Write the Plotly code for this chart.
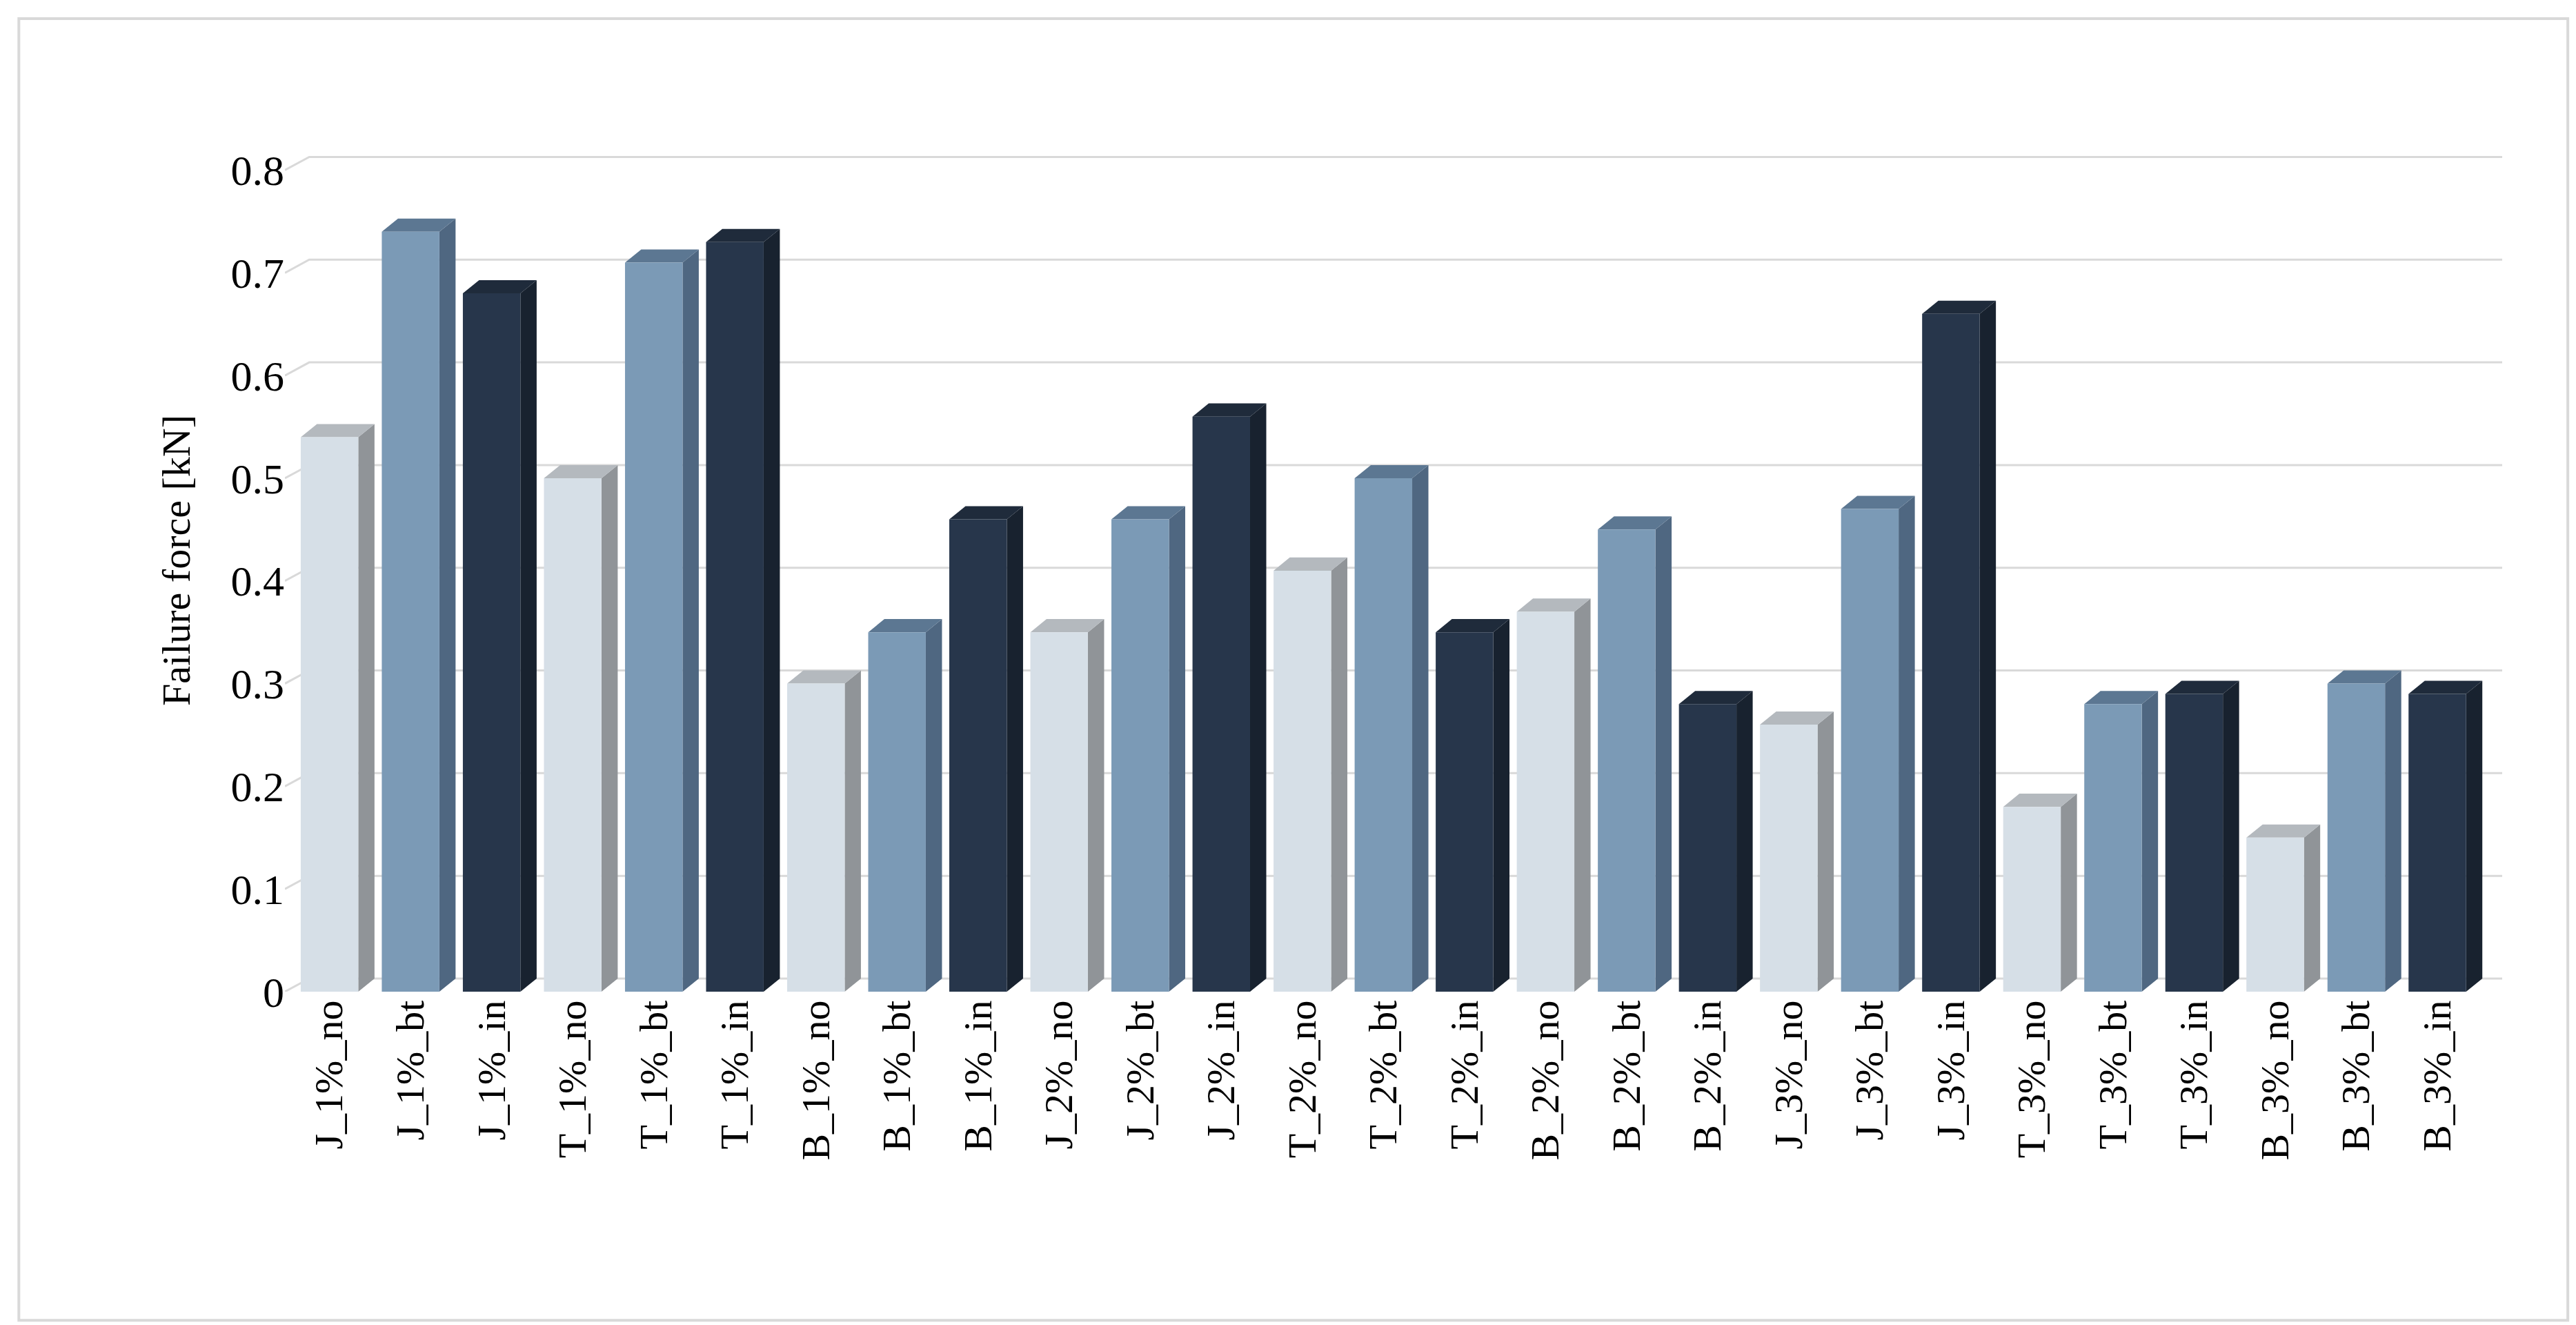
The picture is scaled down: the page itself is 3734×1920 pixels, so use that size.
import plotly.graph_objects as go

categories = ["J_1%_no","J_1%_bt","J_1%_in","T_1%_no","T_1%_bt","T_1%_in",
              "B_1%_no","B_1%_bt","B_1%_in","J_2%_no","J_2%_bt","J_2%_in",
              "T_2%_no","T_2%_bt","T_2%_in","B_2%_no","B_2%_bt","B_2%_in",
              "J_3%_no","J_3%_bt","J_3%_in","T_3%_no","T_3%_bt","T_3%_in",
              "B_3%_no","B_3%_bt","B_3%_in"]
values = [0.54,0.74,0.68,0.50,0.71,0.73,
          0.30,0.35,0.46,0.35,0.46,0.56,
          0.41,0.50,0.35,0.37,0.45,0.28,
          0.26,0.47,0.66,0.18,0.28,0.29,
          0.15,0.30,0.29]
y_ticks = [0,0.1,0.2,0.3,0.4,0.5,0.6,0.7,0.8]
y_ticklabels = ["0","0.1","0.2","0.3","0.4","0.5","0.6","0.7","0.8"]

front = ["#d6dfe7","#7b9ab6","#27364b"]
side = ["#909498","#4f6781","#18222f"]
top = ["#b4b9be","#5c7792","#1f2b3b"]

W = 0.71     # bar width (category units)
DX = 0.2     # depth x offset
DY = 0.0128  # depth y offset
XL, XR = -0.55, 26.8

fig = go.Figure()

gx, gy = [], []
for t in y_ticks:
    gx += [XL, XL+0.3, XR, None]
    gy += [t, t+DY, t+DY, None]
fig.add_trace(go.Scatter(x=gx, y=gy, mode="lines", line=dict(color="#d9d9d9", width=3),
                         hoverinfo="skip", showlegend=False))

for k in range(3):
    fx, fy, sx, sy, tx, ty = [], [], [], [], [], []
    for i, v in enumerate(values):
        if i % 3 != k:
            continue
        a, b = i - W/2, i + W/2
        fx += [a, b, b, a, a, None]; fy += [0, 0, v, v, 0, None]
        sx += [b, b+DX, b+DX, b, b, None]; sy += [0, DY, v+DY, v, 0, None]
        tx += [a, a+DX, b+DX, b, a, None]; ty += [v, v+DY, v+DY, v, v, None]
    for xs, ys, c in [(sx, sy, side[k]), (tx, ty, top[k]), (fx, fy, front[k])]:
        fig.add_trace(go.Scatter(x=xs, y=ys, mode="lines", fill="toself", fillcolor=c,
                                 line=dict(width=0, color=c), hoverinfo="skip", showlegend=False))

font = "Liberation Serif"
fig.update_layout(
    width=3734, height=1920, paper_bgcolor="white", plot_bgcolor="white",
    margin=dict(l=405, r=115, t=179, b=491),
    font=dict(family=font, size=58, color="black"),
    xaxis=dict(range=[XL, XR], tickvals=list(range(len(categories))), ticktext=categories,
               tickangle=-90, showgrid=False, zeroline=False, showline=False, ticks="",
               tickfont=dict(size=58)),
    yaxis=dict(range=[0, 0.84], tickvals=y_ticks, ticktext=y_ticklabels, showgrid=False,
               zeroline=False, showline=False, ticks="", tickfont=dict(size=62),
               title=dict(text="Failure force [kN]", font=dict(size=58), standoff=40)),
    shapes=[dict(type="rect", xref="paper", yref="paper", x0=-0.120, x1=1.0296,
                 y0=-0.381, y1=1.128, line=dict(color="#d9d9d9", width=4))],
)
fig.write_html("out.html")
